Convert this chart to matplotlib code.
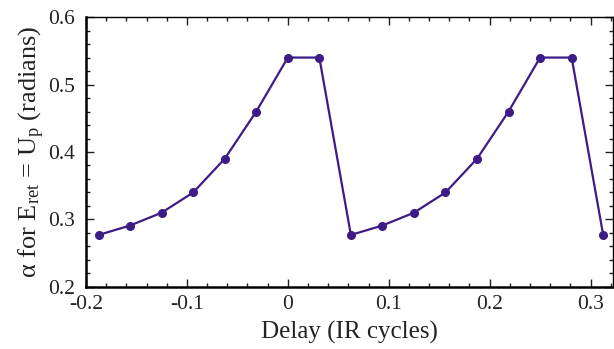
import matplotlib
matplotlib.use("Agg")
import matplotlib.pyplot as plt
from matplotlib.ticker import MultipleLocator

plt.rcParams['font.family'] = ['Liberation Serif', 'DejaVu Serif']
plt.rcParams['mathtext.fontset'] = 'custom'
plt.rcParams['mathtext.rm'] = 'Liberation Serif'
plt.rcParams['mathtext.it'] = 'Liberation Serif:italic'

# delay in IR cycles, alpha in radians
delay = [-0.1875, -0.15625, -0.125, -0.09375, -0.0625, -0.03125, 0.0, 0.03125,
         0.0625, 0.09375, 0.125, 0.15625, 0.1875, 0.21875, 0.25, 0.28125, 0.3125]
alpha = [0.277, 0.291, 0.310, 0.340, 0.390, 0.460, 0.540, 0.540,
         0.277, 0.291, 0.310, 0.340, 0.390, 0.460, 0.540, 0.540, 0.277]

color = '#3d1c87'

fig = plt.figure(figsize=(6.14, 3.49), dpi=100)
ax = fig.add_axes([0.140, 0.178, 0.858, 0.773])

ax.plot(delay, alpha, color=color, lw=1.6, marker='o', ms=5.5, clip_on=False, zorder=3)

ax.set_xlim(-0.2, 0.322)
ax.set_ylim(0.2, 0.6)
ax.xaxis.set_minor_locator(MultipleLocator(0.02))
ax.yaxis.set_minor_locator(MultipleLocator(0.02))
ax.set_xticks([-0.2, -0.1, 0, 0.1, 0.2, 0.3])
ax.set_xticklabels(['-0.2', '-0.1', '0', '0.1', '0.2', '0.3'])
ax.set_yticks([0.2, 0.3, 0.4, 0.5, 0.6])
ax.set_yticklabels(['0.2', '0.3', '0.4', '0.5', '0.6'])

ax.tick_params(which='both', direction='in', top=True, right=True, labelsize=15.5,
               color='#222222', labelcolor='#222222')
ax.tick_params(which='major', length=6, width=1)
ax.tick_params(which='minor', length=3, width=1)
ax.tick_params(axis='x', pad=6)
ax.tick_params(axis='y', pad=8)
for s in ax.spines.values():
    s.set_linewidth(1.0)
ax.spines['left'].set_linewidth(1.8)
ax.spines['bottom'].set_linewidth(1.8)

ax.set_xlabel('Delay (IR cycles)', fontsize=18, color='#222222', labelpad=5)
ax.set_ylabel('α for E$_{\\mathrm{ret}}$ = U$_{\\mathrm{p}}$ (radians)', fontsize=19,
              color='#222222', labelpad=1)

fig.savefig('out.png', dpi=100)
